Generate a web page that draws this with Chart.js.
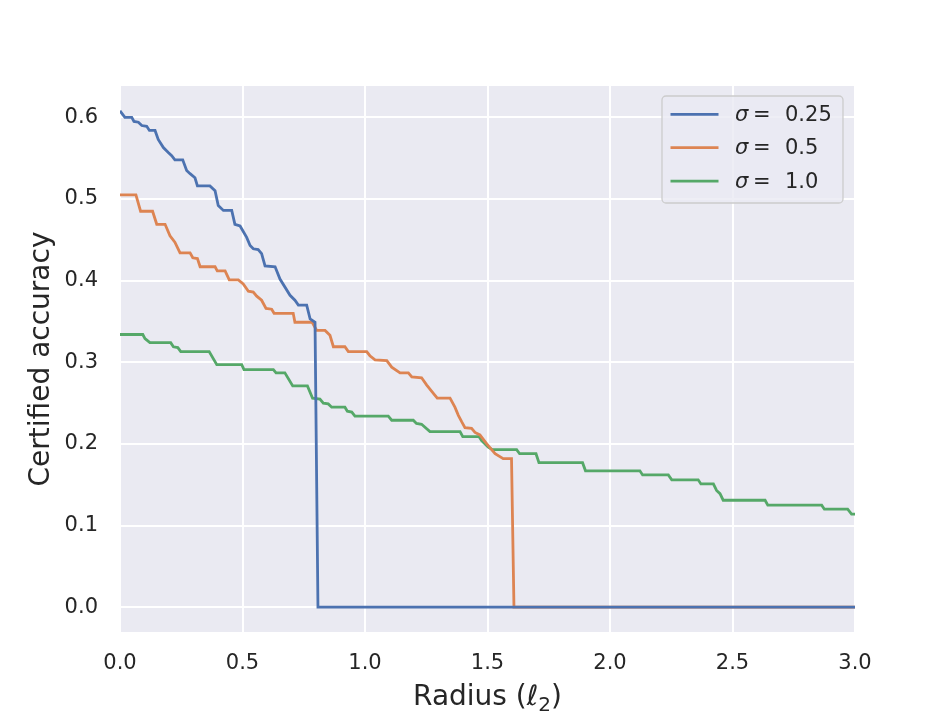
<!DOCTYPE html>
<html>
<head>
<meta charset="utf-8">
<script src="https://cdn.jsdelivr.net/npm/chart.js@4"></script>
<style>
  html, body { margin: 0; padding: 0; background: #fff; }
  #wrap { width: 951px; height: 713px; }
</style>
</head>
<body>
<div id="wrap"><canvas id="chart" width="951" height="713"></canvas></div>
<script>
// radius values and certified accuracy
const r025 = [0, 0.020, 0.048, 0.057, 0.075, 0.089, 0.109, 0.120, 0.143, 0.156, 0.177, 0.197, 0.211, 0.224, 0.256, 0.272, 0.286, 0.306, 0.316, 0.367, 0.388, 0.401, 0.422, 0.456, 0.469, 0.490, 0.517, 0.531, 0.544, 0.564, 0.578, 0.592, 0.633, 0.653, 0.694, 0.714, 0.728, 0.762, 0.776, 0.796, 0.808, 3.0]
const acc025 = [0.608, 0.600, 0.600, 0.595, 0.594, 0.590, 0.589, 0.584, 0.584, 0.573, 0.563, 0.557, 0.553, 0.548, 0.548, 0.535, 0.531, 0.526, 0.516, 0.516, 0.510, 0.492, 0.486, 0.486, 0.469, 0.467, 0.453, 0.443, 0.439, 0.438, 0.433, 0.418, 0.417, 0.402, 0.382, 0.376, 0.370, 0.370, 0.353, 0.349, 0.0, 0.0]

const r05 = [0, 0.065, 0.084, 0.133, 0.150, 0.184, 0.204, 0.224, 0.245, 0.286, 0.297, 0.316, 0.327, 0.388, 0.397, 0.429, 0.446, 0.483, 0.503, 0.524, 0.544, 0.558, 0.578, 0.596, 0.619, 0.629, 0.707, 0.714, 0.784, 0.803, 0.837, 0.857, 0.871, 0.918, 0.932, 1.007, 1.020, 1.041, 1.089, 1.109, 1.143, 1.177, 1.191, 1.231, 1.252, 1.279, 1.295, 1.347, 1.367, 1.381, 1.395, 1.408, 1.435, 1.449, 1.469, 1.497, 1.531, 1.564, 1.598, 1.608, 3.0]
const acc05 = [0.505, 0.505, 0.485, 0.485, 0.469, 0.469, 0.455, 0.447, 0.434, 0.434, 0.428, 0.427, 0.417, 0.417, 0.412, 0.412, 0.401, 0.401, 0.396, 0.387, 0.386, 0.381, 0.376, 0.366, 0.365, 0.360, 0.360, 0.349, 0.349, 0.339, 0.339, 0.333, 0.319, 0.319, 0.313, 0.313, 0.308, 0.303, 0.302, 0.294, 0.287, 0.287, 0.282, 0.281, 0.272, 0.262, 0.256, 0.256, 0.245, 0.235, 0.227, 0.220, 0.219, 0.214, 0.211, 0.200, 0.188, 0.182, 0.182, 0.0, 0.0]

const r10 = [0, 0.093, 0.102, 0.122, 0.207, 0.218, 0.236, 0.248, 0.364, 0.395, 0.497, 0.506, 0.626, 0.637, 0.673, 0.705, 0.765, 0.786, 0.816, 0.830, 0.850, 0.864, 0.918, 0.928, 0.946, 0.959, 1.095, 1.109, 1.197, 1.210, 1.231, 1.265, 1.388, 1.399, 1.465, 1.476, 1.503, 1.520, 1.619, 1.631, 1.698, 1.710, 1.888, 1.900, 2.122, 2.133, 2.238, 2.252, 2.360, 2.371, 2.422, 2.435, 2.449, 2.462, 2.633, 2.644, 2.864, 2.875, 2.970, 2.986, 3.0]
const acc10 = [0.334, 0.334, 0.329, 0.324, 0.324, 0.319, 0.318, 0.313, 0.313, 0.297, 0.297, 0.291, 0.291, 0.287, 0.287, 0.271, 0.271, 0.256, 0.255, 0.250, 0.249, 0.245, 0.245, 0.240, 0.239, 0.234, 0.234, 0.229, 0.229, 0.225, 0.224, 0.215, 0.215, 0.209, 0.209, 0.204, 0.196, 0.193, 0.193, 0.188, 0.188, 0.177, 0.177, 0.167, 0.167, 0.162, 0.162, 0.156, 0.156, 0.151, 0.151, 0.143, 0.139, 0.131, 0.131, 0.125, 0.125, 0.120, 0.120, 0.114, 0.114]

const sigmas = ['0.25', '0.5', '1.0']
const colors = ['#4C72B0', '#DD8452', '#55A868']
const xTicks = [0, 0.5, 1.0, 1.5, 2.0, 2.5, 3.0]
const yTicks = [0, 0.1, 0.2, 0.3, 0.4, 0.5, 0.6]

const textColor = '#262626'
const font = 'DejaVu Sans'

function pts(xs, ys) {
  return xs.map((x, i) => ({x: x, y: ys[i]}))
}

//grå baggrund bag plotområdet
const bgPlugin = {
  id: 'bg',
  beforeDraw(chart) {
    const a = chart.chartArea
    const ctx = chart.ctx
    ctx.save()
    ctx.fillStyle = '#EAEAF2'
    ctx.fillRect(a.left, a.top, a.right - a.left, a.bottom - a.top)
    ctx.restore()
  }
}

//aksetitler, tegnet selv så ℓ og subscript 2 ligner matplotlib
const titlePlugin = {
  id: 'titles',
  afterDraw(chart) {
    const ctx = chart.ctx
    const a = chart.chartArea
    ctx.save()
    ctx.fillStyle = textColor
    // y titel
    ctx.translate(40, (a.top + a.bottom) / 2)
    ctx.rotate(-Math.PI / 2)
    ctx.textAlign = 'center'
    ctx.textBaseline = 'middle'
    ctx.font = '28px "' + font + '"'
    ctx.fillText('Certified accuracy', 0, 2)
    ctx.restore()

    // x titel: "Radius (" + ℓ + ₂ + ")"
    ctx.save()
    ctx.fillStyle = textColor
    ctx.textBaseline = 'alphabetic'
    const normal = '28px "' + font + '"'
    const ital = 'italic 28px "' + font + '"'
    const small = '20px "' + font + '"'
    const parts = [
      {t: 'Radius (', f: normal, dy: 0},
      {t: 'ℓ', f: ital, dy: 0},
      {t: '2', f: small, dy: 6},
      {t: ')', f: normal, dy: 0},
    ]
    let total = 0
    parts.forEach(p => { ctx.font = p.f; p.w = ctx.measureText(p.t).width; total += p.w })
    let x = (a.left + a.right) / 2 - total / 2
    const base = 705
    parts.forEach(p => {
      ctx.font = p.f
      ctx.fillText(p.t, x, base + p.dy)
      x += p.w
    })
    ctx.restore()
  }
}

//legend i øverste højre hjørne, som i matplotlib
const legendPlugin = {
  id: 'sigmaLegend',
  afterDraw(chart) {
    const ctx = chart.ctx
    const a = chart.chartArea
    const w = 181, h = 107
    const x0 = a.right - 12 - w, y0 = a.top + 10
    ctx.save()
    ctx.fillStyle = 'rgba(234,234,242,0.8)'
    ctx.strokeStyle = '#CCCCCC'
    ctx.lineWidth = 1.3
    ctx.beginPath()
    ctx.roundRect(x0, y0, w, h, 4)
    ctx.fill()
    ctx.stroke()
    chart.data.datasets.forEach((ds, i) => {
      const y = y0 + 18.3 + i * 33.4
      ctx.strokeStyle = ds.borderColor
      ctx.lineWidth = 2.8
      ctx.beginPath()
      ctx.moveTo(x0 + 8.5, y)
      ctx.lineTo(x0 + 56.5, y)
      ctx.stroke()
      ctx.fillStyle = textColor
      ctx.textBaseline = 'middle'
      ctx.font = 'italic 21px "' + font + '"'
      ctx.fillText('σ', x0 + 73, y + 1)
      ctx.font = '21px "' + font + '"'
      ctx.fillText('=', x0 + 91, y + 1)
      ctx.fillText(sigmas[i], x0 + 123, y + 1)
    })
    ctx.restore()
  }
}

new Chart(document.getElementById('chart'), {
  type: 'line',
  data: {
    datasets: [
      {label: 'σ = ' + sigmas[0], data: pts(r025, acc025), borderColor: colors[0]},
      {label: 'σ = ' + sigmas[1], data: pts(r05, acc05), borderColor: colors[1]},
      {label: 'σ = ' + sigmas[2], data: pts(r10, acc10), borderColor: colors[2]},
    ].map(d => Object.assign(d, {borderWidth: 2.8, pointRadius: 0, tension: 0, fill: false}))
  },
  options: {
    responsive: false,
    animation: false,
    layout: {padding: {left: 0, right: 96, top: 86, bottom: 0}},
    plugins: {legend: {display: false}, tooltip: {enabled: false}},
    scales: {
      x: {
        type: 'linear',
        min: 0, max: 3.0,
        afterFit(axis) { axis.height = 81 },
        afterBuildTicks(axis) { axis.ticks = xTicks.map(v => ({value: v})) },
        grid: {color: '#FFFFFF', lineWidth: 2, drawTicks: false},
        border: {display: false},
        ticks: {color: textColor, font: {family: font, size: 21}, padding: 19,
          maxRotation: 0, callback: v => v.toFixed(1)}
      },
      y: {
        type: 'linear',
        min: -0.0304, max: 0.6384,
        afterFit(axis) { axis.width = 120 },
        afterBuildTicks(axis) { axis.ticks = yTicks.map(v => ({value: v})) },
        grid: {color: '#FFFFFF', lineWidth: 2, drawTicks: false},
        border: {display: false},
        ticks: {color: textColor, font: {family: font, size: 21}, padding: 22,
          callback: v => v.toFixed(1)}
      }
    }
  },
  plugins: [bgPlugin, titlePlugin, legendPlugin]
})
</script>
</body>
</html>
